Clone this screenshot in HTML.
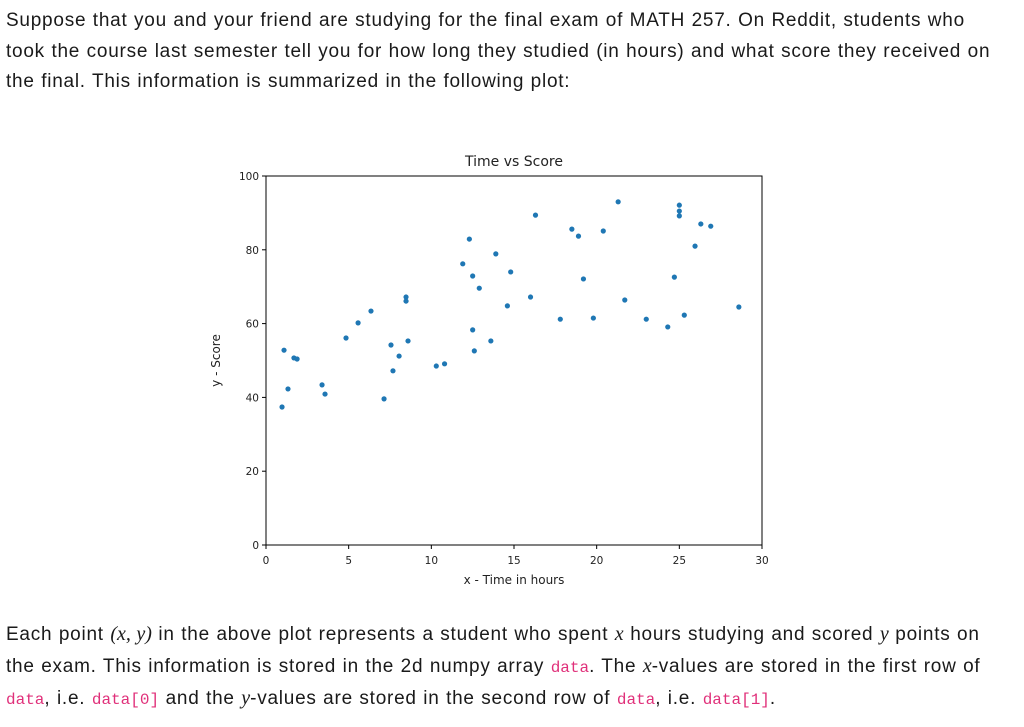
<!DOCTYPE html>
<html><head><meta charset="utf-8"><style>
body{margin:0;background:#fff;width:1024px;height:727px;overflow:hidden;font-family:"Liberation Sans",Helvetica,sans-serif;color:#1a1a1a}
.p{position:absolute;left:6px;font-size:19px;line-height:30.5px;white-space:nowrap;letter-spacing:0.75px;word-spacing:0.5px}
code{font-family:"Liberation Mono",monospace;color:#e0307a;font-size:16px;letter-spacing:0}
i{font-family:"Liberation Serif",serif;font-size:20px;letter-spacing:0}
</style></head><body>
<div class="p" style="top:6px">Suppose that you and your friend are studying for the final exam of MATH 257. On Reddit, students who<br>took the course last semester tell you for how long they studied (in hours) and what score they received on<br>the final. This information is summarized in the following plot:</div>
<svg id="chart" style="position:absolute;left:0;top:0" width="1024" height="727" font-family="DejaVu Sans, sans-serif"></svg>
<div class="p" style="top:619px">Each point <i>(x, y)</i> in the above plot represents a student who spent <i>x</i> hours studying and scored <i>y</i> points on<br>the exam. This information is stored in the 2d numpy array <code>data</code>. The <i>x</i>-values are stored in the first row of<br><code>data</code>, i.e. <code>data[0]</code> and the <i>y</i>-values are stored in the second row of <code>data</code>, i.e. <code>data[1]</code>.</div>
<script>
const hours=[1.09,1.33,1.69,1.88,0.97,3.39,3.57,4.84,5.57,6.35,7.14,7.56,7.68,8.05,8.47,8.47,8.59,10.3,10.8,11.9,12.3,12.5,12.5,12.6,12.9,13.6,13.9,14.6,14.8,16.0,16.3,17.8,18.5,18.9,19.2,19.8,20.4,21.3,21.7,23.0,24.3,24.7,25.0,25.0,25.0,25.3,25.95,26.3,26.9,28.6];
const scores=[52.8,42.3,50.7,50.4,37.4,43.4,40.9,56.1,60.2,63.4,39.6,54.2,47.2,51.2,67.2,66.1,55.3,48.5,49.1,76.2,82.9,72.9,58.3,52.6,69.6,55.3,78.9,64.8,74.0,67.2,89.4,61.2,85.6,83.7,72.1,61.5,85.1,93.0,66.4,61.2,59.1,72.6,92.1,90.5,89.2,62.3,81.0,87.0,86.4,64.5];
const xTicks=[0,5,10,15,20,25,30];
const yTicks=[0,20,40,60,80,100];
const L=266,R=762,T=176,B=545;
const sx=v=>L+(v-0)/30*(R-L), sy=v=>B-(v-0)/100*(B-T);
const svg=document.getElementById('chart');const NS='http://www.w3.org/2000/svg';
function mk(t,a,txt){const e=document.createElementNS(NS,t);for(const k in a)e.setAttribute(k,a[k]);if(txt!==undefined)e.textContent=txt;svg.appendChild(e);return e;}
let e;
e=mk('rect',{x:L,y:T,width:R-L,height:B-T,fill:'none',stroke:'#000','stroke-width':1});


xTicks.forEach(v=>{
 e=mk('line',{x1:sx(v),x2:sx(v),y1:B,y2:B+4,stroke:'#000'});
 
 
 e=mk('text',{x:sx(v),y:B+19,'font-size':10.5,'text-anchor':'middle',fill:'#222'},v);
 
 
});
yTicks.forEach(v=>{
 e=mk('line',{x1:L-4,x2:L,y1:sy(v),y2:sy(v),stroke:'#000'});
 
 
 e=mk('text',{x:L-7,y:sy(v)+4,'font-size':10.5,'text-anchor':'end',fill:'#222'},v);
 
 
});
hours.forEach((h,i)=>{
 e=mk('circle',{cx:sx(h),cy:sy(scores[i]),r:2.6,fill:'#1f77b4'});
 
 
});
e=mk('text',{x:(L+R)/2,y:166,'font-size':14,'text-anchor':'middle',fill:'#222'},'Time vs Score');


e=mk('text',{x:(L+R)/2,y:584,'font-size':12,'text-anchor':'middle',fill:'#222'},'x - Time in hours');


e=mk('text',{x:0,y:0,'font-size':12,'text-anchor':'middle',fill:'#222',transform:'translate(220,'+((T+B)/2)+') rotate(-90)'},'y - Score');


</script>
</body></html>
